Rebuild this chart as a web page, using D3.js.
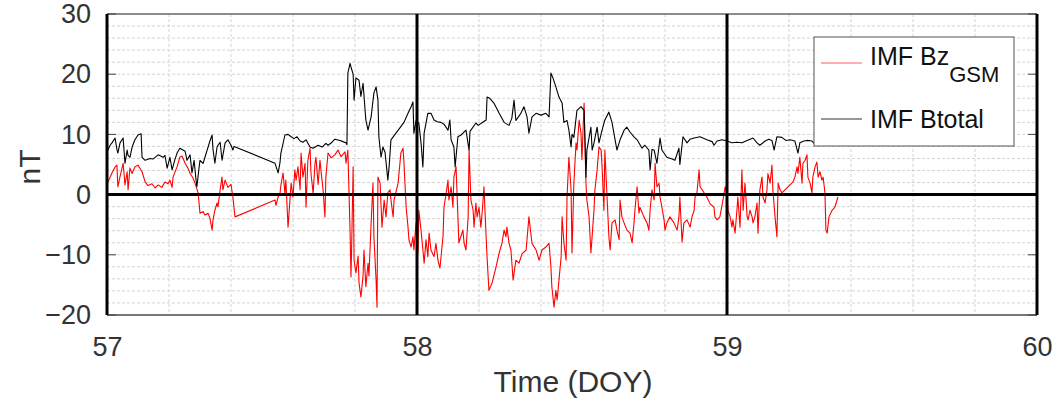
<!DOCTYPE html>
<html>
<head>
<meta charset="utf-8">
<script src="https://cdn.jsdelivr.net/npm/d3@7"></script>
<style>
  body { margin: 0; background: #fff; }
  svg { display: block; font-family: "Liberation Sans", Arial, sans-serif; }
</style>
</head>
<body>
<div id="chart"></div>
<script>
var width = 1058, height = 403;
var margin = {top: 14, right: 21, bottom: 88, left: 107};

// IMF Bz GSM (red)
var bzTime = [57.003,57.016,57.026,57.032,57.035,57.042,57.052,57.058,57.065,57.068,57.074,57.081,57.090,57.100,57.113,57.123,57.132,57.145,57.155,57.165,
  57.177,57.187,57.197,57.203,57.210,57.213,57.226,57.235,57.242,57.252,57.261,57.268,57.277,57.284,57.294,57.297,57.300,57.310,57.316,57.326,
  57.332,57.339,57.342,57.348,57.355,57.358,57.365,57.371,57.374,57.381,57.390,57.400,57.406,57.413,57.542,57.545,57.552,57.558,57.561,57.568,
  57.574,57.577,57.584,57.590,57.594,57.600,57.606,57.610,57.616,57.623,57.626,57.632,57.639,57.642,57.648,57.655,57.658,57.665,57.671,57.674,
  57.681,57.687,57.690,57.697,57.703,57.706,57.713,57.723,57.735,57.745,57.755,57.768,57.771,57.777,57.784,57.787,57.789,57.794,57.797,57.803,
  57.810,57.813,57.819,57.826,57.829,57.835,57.842,57.845,57.852,57.858,57.861,57.868,57.871,57.874,57.881,57.887,57.894,57.900,57.906,57.913,
  57.916,57.923,57.926,57.939,57.948,57.955,57.958,57.965,57.971,57.974,57.981,57.987,57.990,57.997,58.003,58.006,58.013,58.019,58.023,58.029,
  58.035,58.039,58.045,58.055,58.061,58.068,58.074,58.084,58.087,58.094,58.100,58.103,58.110,58.116,58.119,58.126,58.132,58.135,58.148,58.152,
  58.158,58.165,58.168,58.174,58.181,58.184,58.190,58.194,58.200,58.206,58.210,58.216,58.223,58.226,58.232,58.242,58.255,58.265,58.274,58.281,
  58.287,58.290,58.297,58.303,58.310,58.319,58.329,58.339,58.352,58.361,58.371,58.384,58.394,58.403,58.416,58.426,58.432,58.435,58.442,58.448,
  58.452,58.458,58.465,58.468,58.474,58.481,58.484,58.490,58.497,58.500,58.506,58.513,58.516,58.523,58.529,58.532,58.539,58.545,58.548,58.555,
  58.561,58.565,58.571,58.574,58.581,58.587,58.594,58.597,58.603,58.606,58.613,58.619,58.623,58.629,58.639,58.645,58.652,58.655,58.661,58.668,
  58.677,58.687,58.694,58.700,58.703,58.710,58.716,58.719,58.732,58.742,58.748,58.752,58.758,58.765,58.768,58.774,58.781,58.784,58.790,58.797,
  58.800,58.806,58.816,58.829,58.839,58.845,58.848,58.855,58.861,58.871,58.881,58.887,58.894,58.897,58.903,58.910,58.913,58.926,58.935,58.945,
  58.958,58.961,58.968,58.977,58.987,58.994,59.000,59.003,59.010,59.016,59.019,59.026,59.032,59.035,59.042,59.048,59.052,59.058,59.065,59.068,
  59.074,59.081,59.084,59.090,59.097,59.100,59.106,59.113,59.116,59.123,59.129,59.132,59.139,59.145,59.148,59.155,59.161,59.165,59.171,59.177,
  59.213,59.219,59.226,59.229,59.235,59.242,59.245,59.252,59.258,59.261,59.268,59.274,59.277,59.284,59.290,59.294,59.300,59.306,59.310,59.316,
  59.319,59.323,59.329,59.339,59.348,59.358];
var bzVal = [2.1,3.6,4.6,4.9,1.3,3.0,5.2,1.6,3.8,0.8,4.4,3.5,4.6,4.9,3.8,2.1,1.5,1.8,1.1,1.6,
  1.2,2.1,1.8,2.4,1.2,2.9,4.6,6.2,6.4,5.2,4.4,3.5,2.8,1.9,0.3,-1.4,-3.1,-2.8,-3.4,-3.1,
  -3.9,-5.9,-4.2,-2.6,-1.4,-2.0,0.8,2.9,0.8,2.4,1.2,1.7,-0.4,-3.7,-0.9,-1.8,-0.4,0.2,1.6,3.6,
  0.2,2.4,-5.4,-1.0,1.9,-0.4,4.1,2.4,4.6,0.8,6.9,2.9,5.2,-2.1,5.7,7.7,3.5,0.2,5.2,6.2,
  1.7,5.7,4.1,0.8,-3.7,2.9,6.9,6.1,6.6,7.4,6.3,7.1,5.2,7.4,-5.9,-13.7,-9.2,4.6,-10.9,-13.0,
  -10.2,-14.7,-17.0,-13.5,-9.2,-15.3,-11.4,-13.5,-4.7,1.9,-7.0,-14.2,-18.7,2.9,1.9,-5.4,-0.9,-3.7,0.3,0.8,
  -0.9,-3.7,-0.9,1.9,6.9,7.7,5.2,-2.1,-5.4,-7.5,-8.7,-7.0,-9.2,-4.7,-9.7,-2.6,-5.9,-9.2,-11.4,-7.5,
  -10.3,-6.4,-9.2,-10.3,-8.1,-11.0,-12.2,-6.9,-2.1,0.2,2.4,-0.9,1.3,-2.1,2.9,4.6,-3.7,-8.0,-5.9,-8.1,
  -9.2,-3.7,7.4,-0.9,-2.6,-5.4,-1.4,-3.7,-2.1,-5.4,-3.1,1.3,-7.0,-10.4,-15.9,-14.7,-12.0,-9.7,-8.1,-5.9,
  -7.0,-5.4,-8.1,-9.2,-14.2,-10.9,-11.4,-9.8,-9.2,-3.7,-8.1,-9.2,-10.9,-9.2,-8.7,-8.1,-12.0,-15.3,-18.7,-15.9,
  -17.5,-14.2,-10.3,-3.7,-8.1,-10.9,-0.4,6.2,0.8,-9.7,1.9,8.6,7.4,12.4,10.2,5.8,15.2,1.9,-0.9,-3.7,
  -9.7,-6.9,-2.5,0.8,4.1,7.9,7.4,4.6,-2.6,7.4,-0.4,-7.0,-9.2,-4.7,-4.2,-5.9,-7.5,-0.9,-3.7,-4.7,
  -5.9,-6.4,-8.0,-4.7,-2.6,1.3,-3.1,-2.1,-3.7,-4.7,-5.9,-2.6,0.8,-0.9,5.2,1.3,1.9,-0.4,-2.1,-4.2,
  -5.9,-4.7,-3.7,-4.7,-5.9,-3.7,-0.4,-7.9,-4.7,-4.2,-5.4,-3.7,-2.6,-0.4,0.3,4.1,1.3,0.3,-0.4,-1.5,
  -2.1,-3.7,-4.2,-3.7,-0.9,1.3,-0.4,-2.6,-3.7,-5.4,-4.2,-6.4,-2.6,-0.4,-5.4,4.1,-2.6,1.9,-3.7,-4.2,
  -2.6,-3.7,-4.7,-3.7,-1.4,-6.4,0.8,2.9,-0.4,-1.4,0.8,3.5,1.9,4.9,0.8,-3.7,-7.0,1.9,0.8,0.3,
  2.1,2.9,4.6,3.5,6.2,1.9,5.2,5.7,6.6,2.9,1.9,0.3,2.9,4.6,5.4,2.9,3.8,2.4,2.9,0.3,
  -5.9,-6.4,-3.7,-2.6,-2.1,-0.4];

// IMF Btotal (black)
var btTime = [57.000,57.003,57.010,57.016,57.026,57.032,57.035,57.042,57.052,57.058,57.065,57.068,57.074,57.081,57.090,57.100,57.110,57.113,57.123,57.139,
  57.148,57.165,57.181,57.187,57.194,57.203,57.210,57.219,57.226,57.235,57.245,57.252,57.258,57.268,57.274,57.281,57.287,57.290,57.297,57.300,
  57.310,57.316,57.326,57.332,57.339,57.342,57.348,57.355,57.358,57.365,57.371,57.381,57.390,57.400,57.406,57.410,57.542,57.552,57.558,57.561,
  57.568,57.574,57.584,57.594,57.603,57.613,57.623,57.632,57.642,57.655,57.665,57.681,57.694,57.706,57.713,57.726,57.735,57.752,57.761,57.771,
  57.774,57.777,57.784,57.787,57.794,57.797,57.803,57.813,57.819,57.826,57.835,57.842,57.852,57.861,57.868,57.874,57.877,57.884,57.890,57.897,
  57.906,57.910,57.916,57.958,57.971,57.981,57.987,57.990,57.997,58.006,58.013,58.019,58.023,58.035,58.045,58.055,58.065,58.077,58.087,58.100,
  58.106,58.110,58.119,58.123,58.132,58.142,58.158,58.168,58.171,58.190,58.197,58.206,58.223,58.226,58.235,58.248,58.265,58.281,58.297,58.306,
  58.313,58.319,58.335,58.345,58.355,58.361,58.371,58.384,58.400,58.416,58.426,58.432,58.439,58.448,58.458,58.468,58.474,58.484,58.490,58.497,
  58.500,58.506,58.516,58.529,58.539,58.545,58.548,58.561,58.565,58.571,58.581,58.587,58.597,58.606,58.619,58.629,58.639,58.645,58.655,58.668,
  58.677,58.687,58.700,58.710,58.726,58.735,58.748,58.752,58.758,58.765,58.774,58.784,58.790,58.806,58.823,58.832,58.845,58.848,58.858,58.871,
  58.881,58.894,58.913,58.935,58.952,58.958,58.968,58.984,59.000,59.016,59.032,59.048,59.065,59.084,59.097,59.106,59.123,59.135,59.145,59.152,
  59.161,59.177,59.190,59.203,59.219,59.229,59.235,59.248,59.258,59.274,59.287,59.300,59.319,59.339];
var btVal = [7.4,7.4,8.2,8.6,9.4,7.5,6.9,8.6,9.4,5.2,7.4,6.5,6.2,7.9,9.1,9.9,10.1,6.2,5.7,6.0,
  5.9,6.6,6.2,6.5,4.4,6.2,4.1,5.8,6.9,7.7,7.4,7.2,5.7,6.6,3.6,5.7,2.5,1.3,4.5,5.7,
  5.2,6.2,7.9,8.9,9.9,7.5,5.2,7.9,8.2,8.7,5.7,8.6,9.1,8.2,7.4,8.0,5.2,3.6,5.3,6.9,
  8.5,9.9,10.0,9.6,9.3,9.6,8.9,8.7,9.1,7.9,7.7,8.2,7.9,8.5,8.2,8.7,9.2,9.0,8.8,8.6,
  8.3,20.2,21.8,21.2,20.0,15.7,19.4,19.0,16.3,18.5,12.4,10.7,12.9,16.9,17.9,15.7,9.6,6.2,7.9,7.0,
  2.4,4.6,9.1,12.0,13.5,14.6,15.4,10.2,12.3,11.9,8.6,4.6,10.2,13.5,13.5,12.4,12.1,12.0,11.7,10.7,
  12.4,9.1,7.9,4.6,9.6,9.9,10.7,7.4,10.5,11.9,11.5,11.8,12.4,16.2,16.0,15.2,13.5,12.0,11.5,12.7,
  15.7,12.3,13.5,14.6,12.9,10.2,12.9,13.5,13.2,13.5,12.9,20.2,19.3,17.9,16.2,15.2,12.0,12.3,10.7,7.9,
  10.0,9.5,14.0,14.6,14.0,2.9,7.4,11.2,7.4,8.6,11.2,8.6,10.7,12.4,13.7,12.0,9.1,7.4,9.1,10.7,
  11.2,10.4,9.6,9.1,7.7,8.2,7.4,4.1,7.5,7.4,5.2,9.4,7.4,6.2,5.9,5.7,7.7,5.0,9.6,8.6,
  9.2,9.4,9.6,9.1,8.8,8.2,8.9,9.1,8.9,8.6,8.7,8.6,9.0,9.4,8.6,8.2,8.9,9.2,9.0,7.4,
  9.6,9.5,9.0,9.1,8.9,6.9,8.6,8.9,9.0,8.9,8.2,8.4,8.6,8.5];

var xTicks = [57, 58, 59, 60];
var yTicks = [-20, -10, 0, 10, 20, 30];
var seriesNames = ["IMF Bz", "IMF Btotal"];

var bz = bzTime.map(function(t, i) { return [t, bzVal[i]]; });
var bt = btTime.map(function(t, i) { return [t, btVal[i]]; });

var w = width - margin.left - margin.right;
var h = height - margin.top - margin.bottom;

var x = d3.scaleLinear().domain([57, 60]).range([0, w]);
var y = d3.scaleLinear().domain([-20, 30]).range([h, 0]);

var svg = d3.select("#chart").append("svg")
    .attr("width", width)
    .attr("height", height);

var g = svg.append("g")
    .attr("transform", "translate(" + margin.left + "," + margin.top + ")");

// minor grid
g.append("g").selectAll("line")
    .data(d3.range(57.2, 60, 0.2).filter(function(d) { return Math.abs(d - Math.round(d)) > 0.01; }))
    .enter().append("line")
    .attr("x1", function(d) { return x(d); })
    .attr("x2", function(d) { return x(d); })
    .attr("y1", 0).attr("y2", h)
    .attr("stroke", "#d4d4d4").attr("stroke-width", 1)
    .attr("stroke-dasharray", "3,2");

g.append("g").selectAll("line")
    .data(d3.range(-18, 30, 2).filter(function(d) { return d !== 0; }))
    .enter().append("line")
    .attr("x1", 0).attr("x2", w)
    .attr("y1", function(d) { return y(d); })
    .attr("y2", function(d) { return y(d); })
    .attr("stroke", "#d4d4d4").attr("stroke-width", 1)
    .attr("stroke-dasharray", "3,2");

// frame top / bottom
g.append("line").attr("x1", 0).attr("x2", w).attr("y1", 0).attr("y2", 0)
    .attr("stroke", "#666").attr("stroke-width", 1.5);
g.append("line").attr("x1", 0).attr("x2", w).attr("y1", h).attr("y2", h)
    .attr("stroke", "#777").attr("stroke-width", 2);

// y ticks on both sides
g.append("g").selectAll("line")
    .data(yTicks).enter().append("line")
    .attr("x1", 0).attr("x2", 9)
    .attr("y1", function(d) { return y(d); }).attr("y2", function(d) { return y(d); })
    .attr("stroke", "#444").attr("stroke-width", 1);
g.append("g").selectAll("line")
    .data(yTicks).enter().append("line")
    .attr("x1", w - 9).attr("x2", w)
    .attr("y1", function(d) { return y(d); }).attr("y2", function(d) { return y(d); })
    .attr("stroke", "#444").attr("stroke-width", 1);

var line = d3.line()
    .x(function(d) { return x(d[0]); })
    .y(function(d) { return y(d[1]); });

g.append("path").datum(bz)
    .attr("d", line)
    .attr("fill", "none")
    .attr("stroke", "#ff0000")
    .attr("stroke-width", 1.1)
    .attr("stroke-linejoin", "round");

g.append("path").datum(bt)
    .attr("d", line)
    .attr("fill", "none")
    .attr("stroke", "#000")
    .attr("stroke-width", 1.1)
    .attr("stroke-linejoin", "round");

// bold day lines and zero line
g.append("g").selectAll("line")
    .data(xTicks).enter().append("line")
    .attr("x1", function(d) { return x(d); })
    .attr("x2", function(d) { return x(d); })
    .attr("y1", 0).attr("y2", h)
    .attr("stroke", "#000").attr("stroke-width", 3);

g.append("line")
    .attr("x1", 0).attr("x2", w)
    .attr("y1", y(0)).attr("y2", y(0))
    .attr("stroke", "#000").attr("stroke-width", 3);

// tick labels
var xAxis = d3.axisBottom(x).tickValues(xTicks).tickFormat(d3.format("d")).tickSize(0).tickPadding(22);
var gx = g.append("g")
    .attr("transform", "translate(0," + h + ")")
    .call(xAxis);
gx.select(".domain").remove();
gx.selectAll("text")
    .attr("fill", "#333")
    .style("font-size", "27px")
    .style("font-family", "Liberation Sans, Arial, sans-serif");

var yAxis = d3.axisLeft(y).tickValues(yTicks).tickFormat(d3.format("d")).tickSize(0).tickPadding(16);
var gy = g.append("g").call(yAxis);
gy.select(".domain").remove();
gy.selectAll("text")
    .attr("fill", "#333")
    .style("font-size", "27px")
    .style("font-family", "Liberation Sans, Arial, sans-serif");

svg.append("text")
    .attr("x", 573)
    .attr("y", 392)
    .attr("text-anchor", "middle")
    .attr("fill", "#333")
    .style("font-size", "30px")
    .text("Time (DOY)");

svg.append("text")
    .attr("transform", "translate(40,167) rotate(-90)")
    .attr("text-anchor", "middle")
    .attr("fill", "#333")
    .style("font-size", "30px")
    .text("nT");

// legend
var lg = svg.append("g");
lg.append("rect")
    .attr("x", 814).attr("y", 37)
    .attr("width", 200).attr("height", 109)
    .attr("fill", "#fff")
    .attr("stroke", "#555").attr("stroke-width", 1);
lg.append("line")
    .attr("x1", 821).attr("x2", 862).attr("y1", 63).attr("y2", 63)
    .attr("stroke", "#ff6060").attr("stroke-width", 1.2);
lg.append("line")
    .attr("x1", 821).attr("x2", 862).attr("y1", 119).attr("y2", 119)
    .attr("stroke", "#333").attr("stroke-width", 1.2);
var t1 = lg.append("text")
    .attr("x", 870).attr("y", 65)
    .attr("fill", "#111")
    .style("font-size", "25px");
t1.append("tspan").text(seriesNames[0]);
t1.append("tspan").attr("dy", 17).style("font-size", "22px").text("GSM");
lg.append("text")
    .attr("x", 870).attr("y", 128)
    .attr("fill", "#111")
    .style("font-size", "25px")
    .text(seriesNames[1]);
</script>
</body>
</html>
